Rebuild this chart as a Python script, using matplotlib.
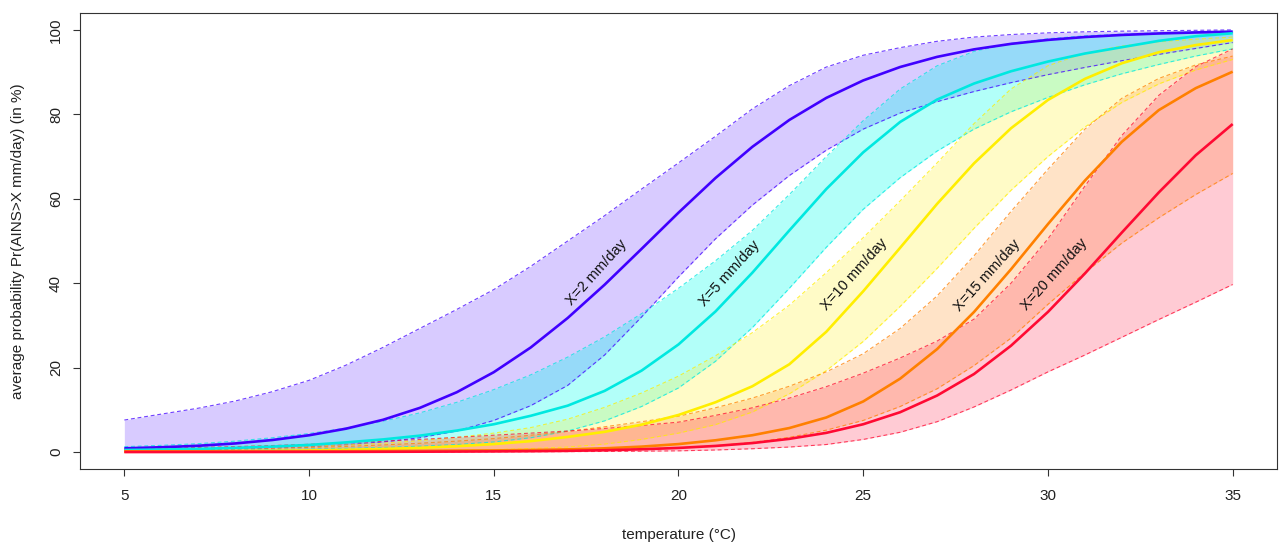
import matplotlib
matplotlib.use("Agg")
import matplotlib.pyplot as plt
import matplotlib.transforms as mtransforms

plt.rcParams['font.family'] = ['Liberation Sans', 'DejaVu Sans']

temp = [5, 6, 7, 8, 9, 10, 11, 12, 13, 14, 15, 16, 17, 18, 19, 20,
        21, 22, 23, 24, 25, 26, 27, 28, 29, 30, 31, 32, 33, 34, 35]

labels = ["X=2 mm/day", "X=5 mm/day", "X=10 mm/day", "X=15 mm/day", "X=20 mm/day"]

x2_mean = [0.9, 1.15, 1.5, 2.05, 2.86, 3.99, 5.55, 7.65, 10.48, 14.19, 18.93, 24.78, 31.76, 39.65, 48.13, 56.71,
           64.91, 72.31, 78.67, 83.89, 88.03, 91.21, 93.61, 95.39, 96.69, 97.63, 98.31, 98.80, 99.15, 99.39, 99.57]
x2_up = [7.6, 9.0, 10.4, 12.1, 14.3, 17.0, 20.6, 24.8, 29.3, 33.8, 38.5, 44.0, 50.0, 56.0, 62.3, 68.5,
         74.8, 81.3, 86.8, 91.2, 94.0, 95.8, 97.3, 98.3, 98.9, 99.3, 99.55, 99.7, 99.8, 99.9, 100.0]
x2_lo = [0.4, 0.5, 0.65, 0.8, 1.0, 1.3, 1.75, 2.4, 3.4, 5.0, 7.5, 11.0, 15.8, 23.0, 32.0, 41.5,
         50.5, 58.5, 65.5, 71.5, 76.5, 80.3, 83.0, 85.4, 87.5, 89.4, 91.1, 92.7, 94.2, 95.6, 97.0]

x5_mean = [0.5, 0.6, 0.75, 1.0, 1.3, 1.7, 2.3, 3.0, 3.9, 5.1, 6.6, 8.6, 11.0, 14.5, 19.3, 25.5,
           33.3, 42.5, 52.5, 62.3, 71.0, 78.2, 83.5, 87.3, 90.2, 92.5, 94.4, 95.9, 97.4, 98.5, 99.2]
x5_up = [1.3, 1.6, 2.0, 2.6, 3.4, 4.4, 5.7, 7.3, 9.3, 11.8, 14.8, 18.3, 22.5, 27.3, 32.8, 38.8,
         45.3, 52.5, 61.0, 70.0, 78.5, 86.0, 91.5, 94.9, 96.8, 97.9, 98.6, 99.0, 99.3, 99.5, 99.7]
x5_lo = [0.3, 0.35, 0.4, 0.5, 0.6, 0.75, 0.9, 1.1, 1.4, 1.8, 2.4, 3.4, 5.0, 7.4, 10.8, 15.2,
         21.5, 29.5, 38.8, 48.5, 57.5, 65.0, 71.3, 76.5, 80.6, 84.0, 87.0, 89.6, 91.8, 93.8, 95.5]

x10_mean = [0.09, 0.12, 0.16, 0.22, 0.3, 0.4, 0.55, 0.75, 1.0, 1.4, 1.9, 2.6, 3.6, 4.8, 6.5, 8.8,
            11.8, 15.6, 20.8, 28.5, 38.1, 48.4, 58.8, 68.4, 76.7, 83.4, 88.4, 92.1, 94.7, 96.4, 97.6]
x10_up = [0.6, 0.7, 0.8, 0.95, 1.15, 1.4, 1.7, 2.1, 2.7, 3.5, 4.5, 5.8, 7.8, 10.6, 14.0, 18.0,
          22.8, 28.3, 34.8, 42.5, 50.8, 59.5, 68.5, 77.8, 86.0, 91.5, 94.5, 96.2, 97.2, 97.8, 98.3]
x10_lo = [0.1, 0.1, 0.12, 0.15, 0.18, 0.2, 0.25, 0.3, 0.38, 0.48, 0.6, 0.85, 1.2, 1.9, 3.0, 4.5,
          6.5, 9.5, 13.8, 19.3, 26.2, 34.5, 43.5, 53.0, 62.0, 70.0, 77.0, 82.8, 87.2, 90.5, 93.0]

x15_mean = [0.2, 0.2, 0.2, 0.2, 0.2, 0.2, 0.22, 0.25, 0.3, 0.35, 0.4, 0.5, 0.65, 0.9, 1.3, 1.9,
            2.8, 4.0, 5.7, 8.2, 12.0, 17.4, 24.4, 33.2, 43.3, 54.0, 64.3, 73.5, 81.0, 86.2, 90.1]
x15_up = [0.4, 0.5, 0.6, 0.75, 0.9, 1.1, 1.35, 1.7, 2.1, 2.6, 3.2, 4.0, 4.9, 6.0, 7.2, 8.5,
          10.5, 12.8, 15.6, 19.0, 23.3, 29.3, 37.0, 46.5, 57.0, 67.0, 76.5, 83.8, 88.5, 91.7, 93.8]
x15_lo = [0.03, 0.03, 0.04, 0.05, 0.06, 0.07, 0.08, 0.1, 0.12, 0.15, 0.2, 0.3, 0.4, 0.55, 0.75, 1.0,
          1.5, 2.3, 3.5, 5.2, 7.5, 10.8, 15.0, 20.5, 27.0, 35.0, 42.5, 49.5, 55.5, 61.0, 66.0]

x20_mean = [0.02, 0.02, 0.03, 0.03, 0.04, 0.05, 0.06, 0.08, 0.1, 0.13, 0.17, 0.22, 0.3, 0.45, 0.67, 0.99,
            1.46, 2.14, 3.14, 4.56, 6.6, 9.45, 13.4, 18.5, 25.2, 33.2, 42.3, 52.0, 61.5, 70.3, 77.7]
x20_up = [0.8, 0.95, 1.1, 1.3, 1.55, 1.85, 2.2, 2.6, 3.0, 3.5, 4.0, 4.5, 5.0, 5.6, 6.3, 7.1,
          8.7, 10.5, 12.8, 15.5, 18.7, 22.3, 26.3, 31.5, 40.0, 50.5, 63.0, 75.0, 84.5, 91.3, 95.5]
x20_lo = [0.0, 0.0, 0.0, 0.01, 0.01, 0.02, 0.02, 0.03, 0.04, 0.05, 0.07, 0.09, 0.12, 0.16, 0.22, 0.3,
          0.5, 0.8, 1.2, 1.8, 3.0, 4.7, 7.2, 10.7, 14.7, 19.0, 23.0, 27.2, 31.4, 35.5, 39.7]

label_x = [17.78, 21.37, 24.77, 28.35, 30.16]
label_y = [42.5, 42.3, 42.0, 41.8, 42.0]

x_ticks = [5, 10, 15, 20, 25, 30, 35]
y_ticks = [0, 20, 40, 60, 80, 100]

means = [x2_mean, x5_mean, x10_mean, x15_mean, x20_mean]
uppers = [x2_up, x5_up, x10_up, x15_up, x20_up]
lowers = [x2_lo, x5_lo, x10_lo, x15_lo, x20_lo]

line_colors = ['#4000FF', '#00E8E0', '#FFEE00', '#FF8000', '#FF0A33']
fill_colors = ['#8055FF', '#00FFEE', '#FFF548', '#FFA548', '#FF5573']

fig = plt.figure(figsize=(12.81, 5.45), dpi=100)
ax = fig.add_axes([80 / 1281, 1 - 469 / 545, (1277 - 80) / 1281, (469 - 13) / 545])

for i in range(5):
    ax.fill_between(temp, lowers[i], uppers[i], color=fill_colors[i], alpha=0.3, linewidth=0, zorder=1)
for i in range(5):
    ax.plot(temp, uppers[i], color=line_colors[i], lw=0.8, alpha=0.75, dashes=(3.5, 2.5), zorder=2)
    ax.plot(temp, lowers[i], color=line_colors[i], lw=0.8, alpha=0.75, dashes=(3.5, 2.5), zorder=2)
for i in range(5):
    ax.plot(temp, means[i], color=line_colors[i], lw=1.9, zorder=3,
            solid_capstyle='butt', solid_joinstyle='round')

for i in range(5):
    ax.text(label_x[i], label_y[i], labels[i], rotation=48, rotation_mode='anchor',
            ha='center', va='center', fontsize=10.5, color='#111111', zorder=4)

ax.set_xlim(3.8, 36.2)
ax.set_ylim(-4, 104)
ax.set_xticks(x_ticks)
ax.set_yticks(y_ticks)
ax.set_xticklabels([])
ax.set_yticklabels([])
ax.tick_params(direction='out', length=5, width=0.8, colors='#333333')

tx = mtransforms.blended_transform_factory(ax.transData, ax.transAxes)
for v in x_ticks:
    ax.text(v, (469 - 496) / 456, str(v), transform=tx, ha='center', va='center',
            fontsize=11, color='#222222')
ty = mtransforms.blended_transform_factory(ax.transAxes, ax.transData)
for v in y_ticks:
    ax.text((56 - 80) / 1197, v, str(v), transform=ty, ha='center', va='center',
            rotation=90, fontsize=11, color='#222222')

for s in ax.spines.values():
    s.set_linewidth(0.8)
    s.set_color('#333333')

ax.text(0.5, (469 - 535) / 456, 'temperature (°C)', transform=ax.transAxes,
        ha='center', va='center', fontsize=11, color='#222222')
ax.text((18 - 80) / 1197, 0.5, 'average probability Pr(AINS>X mm/day) (in %)',
        transform=ax.transAxes, ha='center', va='center', rotation=90,
        fontsize=11, color='#222222')

fig.savefig('out.png', dpi=100)
